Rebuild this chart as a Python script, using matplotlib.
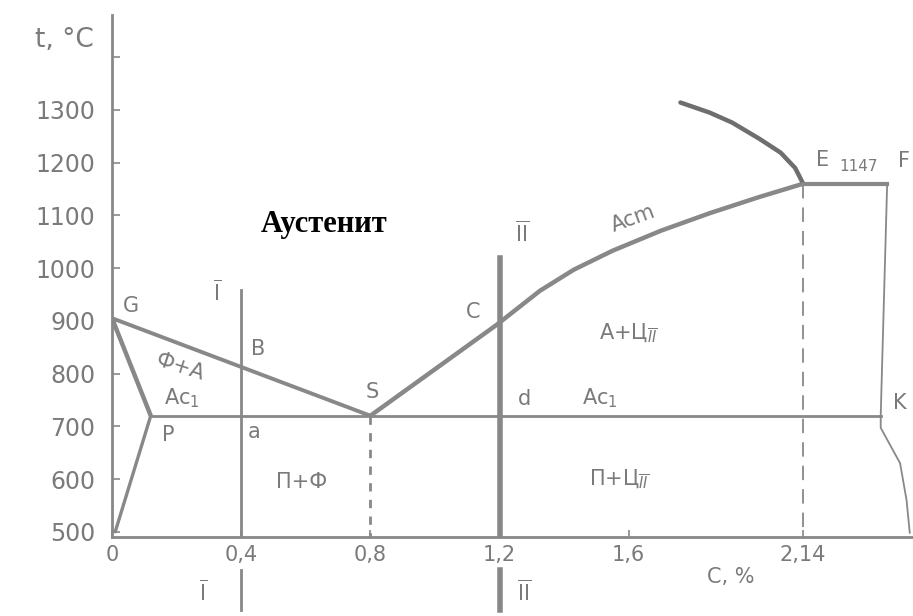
#! /usr/bin/env python3

"Iron-carbon diagram, steel corner (hand-drawn style)"

import matplotlib
matplotlib.use("Agg")
import matplotlib.pyplot as plt

# phase boundary lines: carbon, % / temperature, C
gs_x = [0.0, 0.80]
gs_y = [905, 720]
gp_x = [0.0, 0.12]
gp_y = [905, 720]
po_x = [0.12, 0.01]
po_y = [720, 500]
psk_x = [0.12, 2.38]
psk_y = [720, 720]
se_x = [0.80, 1.19, 1.325, 1.43, 1.55, 1.70, 1.85, 2.005, 2.14]
se_y = [720, 892, 957, 997, 1033, 1071, 1104, 1135, 1160]
ae_x = [1.76, 1.85, 1.92, 2.005, 2.07, 2.115, 2.14]
ae_y = [1314, 1295, 1276, 1245, 1219, 1190, 1160]
ef_x = [2.14, 2.40]
ef_y = [1160, 1160]
fk_x = [2.40, 2.38, 2.38, 2.44, 2.46, 2.47]
fk_y = [1160, 720, 697, 630, 560, 498]

# alloys I and II
alloy_x = [0.4, 1.2]
alloy_top = [959, 1019]

x_ticks = [0, 0.4, 0.8, 1.2, 1.6, 2.14]
x_labels = ["0", "0,4", "0,8", "1,2", "1,6", "2,14"]
y_ticks = [500, 600, 700, 800, 900, 1000, 1100, 1200, 1300]
y_labels = ["500", "600", "700", "800", "900", "1000", "1100", "1200", "1300"]

gray = "#888888"
ink = "#7a7a7a"

fig = plt.figure(figsize=(9.13, 6.16), dpi=100)
ax = fig.add_axes([112 / 913, 79 / 616, 801 / 913, 522 / 616])
ax.set_xlim(0, 2.48)
ax.set_ylim(490, 1480)

for s in ["top", "right"]:
    ax.spines[s].set_visible(False)
for s in ["left", "bottom"]:
    ax.spines[s].set_color(gray)
    ax.spines[s].set_linewidth(2)

round_ends = dict(solid_capstyle="round", solid_joinstyle="round")
ax.plot(gs_x, gs_y, color=gray, lw=2.8, **round_ends)
ax.plot(gp_x, gp_y, color=gray, lw=3.2, **round_ends)
ax.plot(po_x, po_y, color=gray, lw=2.4, **round_ends)
ax.plot(psk_x, psk_y, color=gray, lw=2.0)
ax.plot(se_x, se_y, color=gray, lw=3.2, **round_ends)
ax.plot(ae_x, ae_y, color="#6e6e6e", lw=3.2, **round_ends)
ax.plot(ef_x, ef_y, color=gray, lw=3.0)
ax.plot(fk_x, fk_y, color=gray, lw=1.3)

# dashed verticals under S and E
ax.plot([se_x[0], se_x[0]], [se_y[0], 490], color=gray, lw=2.0, ls=(0, (3, 3)))
ax.plot([se_x[-1], se_x[-1]], [se_y[-1], 490], color=gray, lw=1.3, ls=(0, (8, 5)))

# alloy lines, continued under the axis
ax.plot([alloy_x[0]] * 2, [alloy_top[0], 490], color=gray, lw=2.0)
ax.plot([alloy_x[1]] * 2, [alloy_top[1], 490], color=gray, lw=4.0)
ax.plot([alloy_x[0]] * 2, [427, 351], color=gray, lw=2.0, clip_on=False)
ax.plot([alloy_x[1]] * 2, [427, 351], color=gray, lw=4.0, clip_on=False)

ax.set_xticks(x_ticks)
ax.set_xticklabels(x_labels)
ax.set_yticks(y_ticks + [1400])
ax.set_yticklabels(y_labels + [""])
ax.tick_params(axis="y", direction="in", length=6, width=1.2, color=gray,
               labelcolor=ink, labelsize=17, pad=12)
ax.tick_params(axis="x", direction="in", length=5, width=1.2, color=gray,
               labelcolor=ink, labelsize=15, pad=6)

txt = dict(color=ink, fontsize=15, ha="center", va="center")
ax.text(0.059, 928, "G", **txt)
ax.text(0.452, 847, "B", **txt)
ax.text(0.21, 812, "Ф+А", rotation=-18, **txt)
ax.text(0.217, 754, "Ac$_1$", **txt)
ax.text(0.173, 684, "P", **txt)
ax.text(0.44, 689, "a", **txt)
ax.text(0.805, 765, "S", **txt)
ax.text(1.118, 917, "C", **txt)
ax.text(1.276, 752, "d", **txt)
ax.text(1.511, 754, "Ac$_1$", **txt)
ax.text(1.60, 877, "А+Ц$_{\\overline{II}}$", **txt)
ax.text(1.57, 600, "П+Ц$_{\\overline{II}}$", **txt)
ax.text(0.588, 594, "П+Ф", **txt)
ax.text(1.613, 1094, "Acm", rotation=20, **txt)
ax.text(2.20, 1205, "E", **txt)
ax.text(2.31, 1192, "1147", color=ink, fontsize=11, ha="center", va="center")
ax.text(2.435, 1203, "F", color=ink, fontsize=15, ha="left", va="center")
ax.text(2.44, 744, "K", **txt)
ax.text(0.325, 955, "$\\overline{\\mathrm{I}}$", **txt)
ax.text(1.269, 1067, "$\\overline{\\mathrm{II}}$", **txt)
ax.text(0.282, 386, "$\\overline{\\mathrm{I}}$", clip_on=False, **txt)
ax.text(1.276, 386, "$\\overline{\\mathrm{II}}$", clip_on=False, **txt)
ax.text(1.916, 414, "C, %", clip_on=False, **txt)
ax.text(-0.146, 1433, "t, °C", clip_on=False, color=ink, fontsize=19,
        ha="center", va="center")

ax.text(0.656, 1082, "Аустенит", family="Liberation Serif", weight="bold",
        fontsize=22, color="black", ha="center", va="center")

fig.savefig("out.png", dpi=100)
